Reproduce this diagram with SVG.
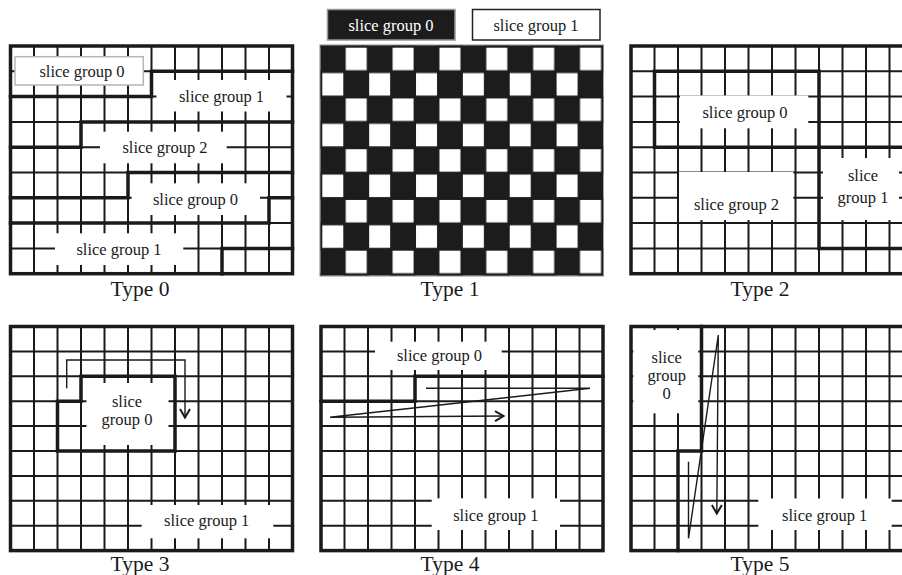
<svg xmlns="http://www.w3.org/2000/svg" width="902" height="575" viewBox="0 0 902 575">
<style>
  .thin{fill:none;stroke:#1a1a1a;stroke-width:2}
  .thick{fill:none;stroke:#1a1a1a;stroke-width:3.5;stroke-linecap:square}
  .frame{fill:none;stroke:#1a1a1a;stroke-width:3.5}
  .lbl{fill:#fff;stroke:none}
  .t{font-family:"Liberation Serif","Times New Roman",serif;font-size:16.5px;fill:#1a1a1a;text-anchor:middle}
  .cap{font-family:"Liberation Serif","Times New Roman",serif;font-size:21.5px;fill:#1a1a1a;text-anchor:middle}
  .arrow{fill:none;stroke:#1a1a1a;stroke-width:1.4;marker-end:url(#ah)}
</style>
<defs>
  <path id="gridT" class="thin" d="M23.5,0V227.7M47,0V227.7M70.5,0V227.7M94,0V227.7M117.5,0V227.7M141,0V227.7M164.5,0V227.7M188,0V227.7M211.5,0V227.7M235,0V227.7M258.5,0V227.7M0,25.3H282M0,50.6H282M0,75.9H282M0,101.2H282M0,126.5H282M0,151.8H282M0,177.1H282M0,202.4H282"/>
  <path id="gridB" class="thin" d="M23.5,0V224.1M47,0V224.1M70.5,0V224.1M94,0V224.1M117.5,0V224.1M141,0V224.1M164.5,0V224.1M188,0V224.1M211.5,0V224.1M235,0V224.1M258.5,0V224.1M0,24.9H282M0,49.8H282M0,74.7H282M0,99.6H282M0,124.5H282M0,149.4H282M0,174.3H282M0,199.2H282"/>
  <pattern id="checker" patternUnits="userSpaceOnUse" x="322.3" y="47.7" width="46.86" height="50.75">
    <rect x="23.43" y="0" width="21" height="22.5" fill="#fff"/>
    <rect x="0" y="25.375" width="21" height="22.5" fill="#fff"/>
  </pattern>
  <marker id="ah" markerUnits="userSpaceOnUse" markerWidth="14" markerHeight="14" refX="10" refY="6" orient="auto">
    <path d="M1.5,1 L10,6 L1.5,11" fill="none" stroke="#1a1a1a" stroke-width="2"/>
  </marker>
</defs>

<g id="legend">
  <rect x="327.5" y="9.5" width="127.5" height="30.5" fill="#1c1c1c" stroke="#999" stroke-width="1.5"/>
  <text class="t" x="391" y="31" style="fill:#fff">slice group 0</text>
  <rect x="472.5" y="9.5" width="127.5" height="30.5" fill="#fff" stroke="#222" stroke-width="1.5"/>
  <text class="t" x="536" y="31">slice group 1</text>
</g>

<g id="type0">
  <use href="#gridT" x="10.5" y="46"/>
  <path class="thick" d="M151.5,71.3H292.5M10.5,96.6H151.5V71.3M10.5,147.2H81V121.9H292.5M10.5,197.8H128V172.5H292.5M10.5,223.1H269V197.8H292.5M222,273.7V248.4H292.5"/>
  <rect x="15" y="56.7" width="128.3" height="28.3" fill="#fff" stroke="#b5b5b5" stroke-width="1.5"/>
  <rect class="lbl" x="156.5" y="80" width="130" height="31.5"/>
  <rect class="lbl" x="100" y="131.7" width="126.7" height="31.6"/>
  <rect class="lbl" x="131.7" y="183.3" width="128.3" height="31.7"/>
  <rect class="lbl" x="55" y="233.3" width="128.3" height="31.7"/>
  <text class="t" x="82" y="77">slice group 0</text>
  <text class="t" x="221.5" y="102">slice group 1</text>
  <text class="t" x="165" y="153">slice group 2</text>
  <text class="t" x="195.5" y="204.5">slice group 0</text>
  <text class="t" x="119" y="255">slice group 1</text>
  <rect class="frame" x="10.5" y="46" width="282" height="227.7"/>
  <text class="cap" x="140" y="295.5">Type 0</text>
</g>

<g id="type1">
  <rect x="320" y="45" width="283.5" height="231" fill="#1c1c1c" stroke="#888" stroke-width="1"/>
  <rect x="320" y="45" width="283.5" height="231" fill="url(#checker)"/>
  <text class="cap" x="450" y="295.5">Type 1</text>
</g>

<g id="type2">
  <use href="#gridT" x="631" y="46"/>
  <path class="thick" d="M654.5,147.2V71.3H819V248.4H913M654.5,147.2H913"/>
  <rect class="lbl" x="680" y="95.5" width="128.3" height="32.8"/>
  <rect class="lbl" x="679" y="172" width="114.3" height="48"/>
  <rect class="lbl" x="823" y="158" width="76" height="62"/>
  <text class="t" x="745" y="117.5">slice group 0</text>
  <text class="t" x="736.5" y="210">slice group 2</text>
  <text class="t" x="863" y="181">slice</text>
  <text class="t" x="863" y="203">group 1</text>
  <rect class="frame" x="631" y="46" width="282" height="227.7"/>
  <text class="cap" x="760" y="295.5">Type 2</text>
</g>

<g id="type3">
  <use href="#gridB" x="10.5" y="326.5"/>
  <path class="thick" d="M81,376.3H175V451H57.5V401.2H81Z"/>
  <rect class="lbl" x="86.5" y="383" width="82" height="62"/>
  <rect class="lbl" x="141.7" y="505" width="131.6" height="33.3"/>
  <text class="t" x="127" y="407">slice</text>
  <text class="t" x="127" y="425">group 0</text>
  <text class="t" x="206.7" y="526">slice group 1</text>
  <rect class="frame" x="10.5" y="326.5" width="282" height="224.1"/>
  <text class="cap" x="140" y="570.5">Type 3</text>
</g>

<g id="type4">
  <use href="#gridB" x="321" y="326.5"/>
  <path class="thick" d="M321,401.2H415V376.3H603"/>
  <rect class="lbl" x="375" y="341.7" width="126.7" height="28.3"/>
  <rect class="lbl" x="431.7" y="498.3" width="128.3" height="31.7"/>
  <text class="t" x="439.5" y="360.5">slice group 0</text>
  <text class="t" x="495.8" y="520.5">slice group 1</text>
  <rect class="frame" x="321" y="326.5" width="282" height="224.1"/>
  <text class="cap" x="450" y="570.5">Type 4</text>
</g>

<g id="type5">
  <use href="#gridB" x="631" y="326.5"/>
  <path class="thick" d="M701.5,326.5V451H678V550.6"/>
  <rect class="lbl" x="633.3" y="330" width="65" height="83.3"/>
  <rect class="lbl" x="758.3" y="498.5" width="133.4" height="31.5"/>
  <text class="t" x="666.7" y="363">slice</text>
  <text class="t" x="666.7" y="381">group</text>
  <text class="t" x="666.7" y="399">0</text>
  <text class="t" x="824.7" y="520.5">slice group 1</text>
  <rect class="frame" x="631" y="326.5" width="282" height="224.1"/>
  <text class="cap" x="760" y="570.5">Type 5</text>
</g>

<g id="connectors">
  <path class="arrow" d="M66.7,388.3V360H185V417.5"/>
  <path class="arrow" d="M426,388.3H590L330,417.3L503.5,416"/>
  <path class="arrow" d="M688.5,461.7V538.3L718.3,335L716.8,513.5"/>
</g>
</svg>
